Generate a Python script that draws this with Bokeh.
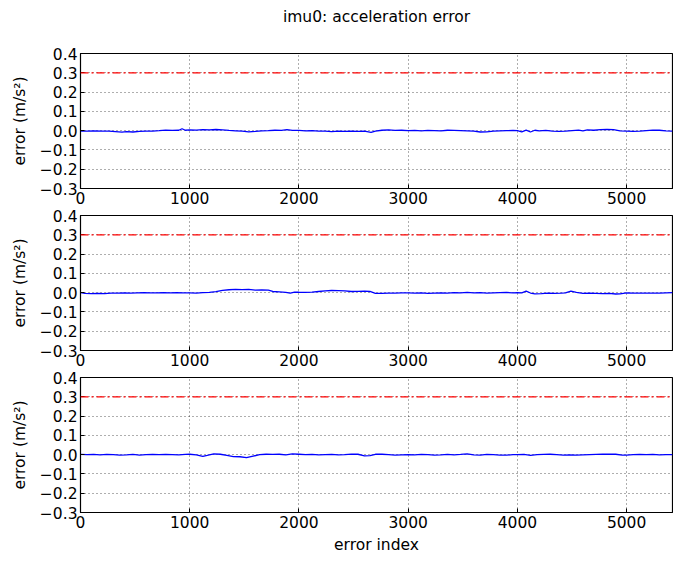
from bokeh.plotting import figure
from bokeh.layouts import column
from bokeh.models import Range1d, FixedTicker, Span, Title
from bokeh.embed import file_html
from bokeh.resources import INLINE

TITLE = "imu0: acceleration error"
X_LABEL = "error index"
Y_LABEL = "error (m/s²)"
THRESHOLD = 0.3
X_MAX = 5420

xtick_vals = [0, 1000, 2000, 3000, 4000, 5000]
xtick_labels = ["0", "1000", "2000", "3000", "4000", "5000"]
ytick_vals = [-0.3, -0.2, -0.1, 0.0, 0.1, 0.2, 0.3, 0.4]
ytick_labels = ["\u22120.3", "\u22120.2", "\u22120.1", "0.0", "0.1", "0.2", "0.3", "0.4"]

idx1 = [0, 60, 120, 200, 260, 320, 380, 420, 480, 540, 600, 660, 720, 780, 840, 900, 930, 960,
        1000, 1060, 1120, 1180, 1240, 1300, 1360, 1420, 1480, 1540, 1600, 1660, 1720, 1780, 1840,
        1890, 1940, 2000, 2060, 2120, 2180, 2240, 2300, 2360, 2420, 2480, 2540, 2600, 2660, 2700,
        2760, 2820, 2880, 2940, 3000, 3060, 3120, 3180, 3240, 3300, 3360, 3420, 3480, 3540, 3600,
        3660, 3720, 3780, 3840, 3900, 3960, 4000, 4040, 4080, 4120, 4160, 4200, 4260, 4320, 4380,
        4440, 4500, 4560, 4600, 4640, 4700, 4760, 4820, 4880, 4940, 5000, 5060, 5120, 5180, 5240,
        5300, 5360, 5420]
err1 = [-0.002, -0.003, -0.001, -0.003, -0.002, -0.005, -0.008, -0.005, -0.007, -0.004, -0.003,
        -0.002, 0.000, 0.003, 0.001, 0.002, 0.010, 0.002, 0.004, 0.003, 0.005, 0.004, 0.006, 0.004,
        0.001, -0.001, -0.003, -0.006, -0.004, -0.001, 0.000, 0.002, 0.001, 0.005, 0.001, 0.001,
        -0.001, 0.000, -0.002, -0.003, -0.005, -0.003, -0.004, -0.003, -0.004, -0.003, -0.009,
        -0.002, 0.002, 0.004, 0.001, 0.002, 0.000, 0.001, -0.001, 0.001, 0.000, -0.001, 0.002,
        0.001, 0.000, -0.001, -0.003, -0.007, -0.006, -0.003, -0.001, 0.000, 0.001, 0.000, -0.006,
        0.003, -0.007, 0.002, -0.001, 0.001, -0.003, -0.004, -0.003, 0.000, 0.003, -0.001, 0.004,
        0.002, 0.005, 0.007, 0.005, -0.001, -0.002, -0.004, -0.003, 0.000, 0.003, 0.002, -0.001,
        -0.002]

idx2 = [0, 40, 100, 160, 220, 280, 340, 400, 460, 520, 580, 640, 700, 760, 820, 880, 940, 1000,
        1060, 1120, 1180, 1240, 1300, 1360, 1420, 1480, 1540, 1600, 1660, 1720, 1760, 1820, 1880,
        1920, 1960, 2000, 2060, 2120, 2180, 2240, 2300, 2360, 2420, 2480, 2540, 2600, 2650, 2700,
        2760, 2820, 2880, 2940, 3000, 3060, 3120, 3180, 3240, 3300, 3360, 3420, 3480, 3540, 3600,
        3660, 3720, 3780, 3840, 3900, 3960, 4000, 4040, 4080, 4120, 4160, 4220, 4280, 4340, 4400,
        4440, 4490, 4540, 4600, 4660, 4720, 4780, 4840, 4900, 4940, 5000, 5060, 5120, 5180, 5240,
        5300, 5360, 5420]
err2 = [0.000, -0.004, -0.005, -0.004, -0.005, -0.003, -0.003, -0.001, -0.002, -0.001, 0.000,
        -0.001, -0.001, 0.000, -0.001, 0.000, -0.001, -0.001, -0.002, 0.000, 0.001, 0.005, 0.012,
        0.015, 0.017, 0.016, 0.017, 0.013, 0.014, 0.013, 0.006, 0.004, 0.001, -0.003, 0.003, 0.002,
        0.001, 0.003, 0.006, 0.009, 0.011, 0.010, 0.009, 0.006, 0.007, 0.008, 0.006, -0.004,
        -0.004, -0.002, -0.003, -0.001, -0.001, -0.002, -0.001, -0.004, -0.002, -0.001, -0.002,
        0.000, -0.001, 0.001, -0.001, 0.000, -0.002, -0.001, 0.000, 0.001, -0.001, 0.000, -0.001,
        0.008, -0.002, -0.006, -0.005, -0.003, -0.004, -0.003, -0.001, 0.008, 0.001, -0.004,
        -0.003, -0.004, -0.005, -0.004, -0.007, -0.006, -0.001, -0.002, -0.003, -0.002, -0.003,
        -0.002, -0.001, 0.000]

idx3 = [0, 60, 120, 180, 240, 300, 360, 420, 480, 540, 600, 660, 720, 780, 840, 900, 960, 1000,
        1060, 1120, 1160, 1220, 1280, 1340, 1400, 1460, 1520, 1580, 1640, 1700, 1760, 1820, 1880,
        1940, 2000, 2060, 2120, 2180, 2240, 2300, 2360, 2420, 2480, 2540, 2600, 2650, 2700, 2760,
        2820, 2880, 2940, 3000, 3060, 3120, 3180, 3240, 3300, 3360, 3420, 3480, 3540, 3600, 3660,
        3720, 3780, 3840, 3900, 3960, 4000, 4060, 4120, 4180, 4240, 4300, 4360, 4420, 4480, 4540,
        4600, 4660, 4720, 4780, 4840, 4900, 4960, 5000, 5060, 5120, 5180, 5240, 5300, 5360, 5420]
err3 = [0.001, 0.000, 0.001, -0.001, 0.001, 0.000, -0.002, -0.001, 0.001, -0.002, 0.000, 0.001,
        0.000, 0.001, 0.000, -0.001, 0.001, 0.002, -0.001, -0.009, -0.004, 0.004, 0.002, -0.004,
        -0.010, -0.011, -0.016, -0.008, 0.000, 0.002, 0.001, 0.002, -0.001, 0.004, 0.002, 0.000,
        0.001, -0.001, 0.000, 0.001, -0.001, 0.000, 0.003, 0.002, -0.006, -0.005, 0.002, 0.002,
        0.000, -0.002, -0.001, 0.000, -0.001, 0.001, 0.000, -0.002, -0.001, 0.001, -0.001, 0.001,
        0.004, -0.001, -0.003, 0.001, 0.000, -0.002, -0.003, 0.000, 0.000, 0.001, -0.004, 0.000,
        0.001, 0.002, 0.000, -0.002, -0.001, -0.003, -0.001, 0.000, 0.001, 0.002, 0.003, 0.002,
        -0.002, -0.003, 0.000, 0.001, 0.000, 0.001, -0.001, 0.000, 0.000]

FONT = "DejaVu Sans"
FS = "15.5px"


def panel(xs, ys, top, bottom, xlabel=False):
    p = figure(frame_width=592, frame_height=135, output_backend="svg", toolbar_location=None,
               x_range=Range1d(0, X_MAX), y_range=Range1d(ytick_vals[0], ytick_vals[-1]),
               min_border_left=80, min_border_right=1, min_border_top=top,
               min_border_bottom=bottom, background_fill_color="white",
               border_fill_color="white")
    p.outline_line_color = "black"
    p.outline_line_width = 1.2
    xt = FixedTicker(ticks=xtick_vals)
    yt = FixedTicker(ticks=ytick_vals)
    for ax, t, labs, vals in ((p.xaxis[0], xt, xtick_labels, xtick_vals),
                              (p.yaxis[0], yt, ytick_labels, ytick_vals)):
        ax.ticker = t
        ax.major_label_overrides = {v: l for v, l in zip(vals, labs)}
        ax.major_tick_in = 4
        ax.major_tick_out = 0
        ax.minor_tick_in = 0
        ax.minor_tick_out = 0
        ax.major_label_standoff = 3
        ax.major_label_text_font = FONT
        ax.major_label_text_font_size = FS
        ax.major_label_text_color = "black"
        ax.axis_line_color = "black"
        ax.major_tick_line_color = "black"
        ax.axis_label_text_color = "black"
    p.yaxis[0].axis_label = Y_LABEL
    p.yaxis[0].axis_label_text_font = FONT
    p.yaxis[0].axis_label_text_font_size = FS
    p.yaxis[0].axis_label_text_font_style = "normal"
    p.yaxis[0].axis_label_standoff = 8
    if xlabel:
        p.xaxis[0].axis_label = X_LABEL
        p.xaxis[0].axis_label_text_font = FONT
        p.xaxis[0].axis_label_text_font_size = FS
        p.xaxis[0].axis_label_text_font_style = "normal"
        p.xaxis[0].axis_label_standoff = 5
    p.xgrid.ticker = xt
    p.ygrid.ticker = yt
    for g in (p.xgrid[0], p.ygrid[0]):
        g.grid_line_color = "black"
        g.grid_line_alpha = 0.8
        g.grid_line_dash = "1 3"
        g.grid_line_width = 0.8
    p.add_layout(Span(location=THRESHOLD, dimension="width", line_color="#ff0000",
                      line_width=1.3, line_dash="8 3 2 3"))
    p.line(xs, ys, line_color="#0000ff", line_width=1.3)
    return p


# title strip
ptitle = figure(width=673, height=47, output_backend="svg", toolbar_location=None,
                x_axis_type=None, y_axis_type=None, min_border_left=80, min_border_right=1,
                min_border_top=0, min_border_bottom=0, x_range=Range1d(0, 1),
                y_range=Range1d(0, 1))
ptitle.outline_line_color = None
ptitle.grid.visible = False
ptitle.title = Title(text=TITLE, align="center", text_font=FONT, text_font_size=FS,
                     text_font_style="normal", text_color="black", offset=-9)

p1 = panel(idx1, err1, 6, 19)
p2 = panel(idx2, err2, 8, 19)
p3 = panel(idx3, err3, 8, 48, xlabel=True)

layout = column(ptitle, p1, p2, p3, spacing=0)
open("out.html", "w").write(file_html(layout, INLINE))
